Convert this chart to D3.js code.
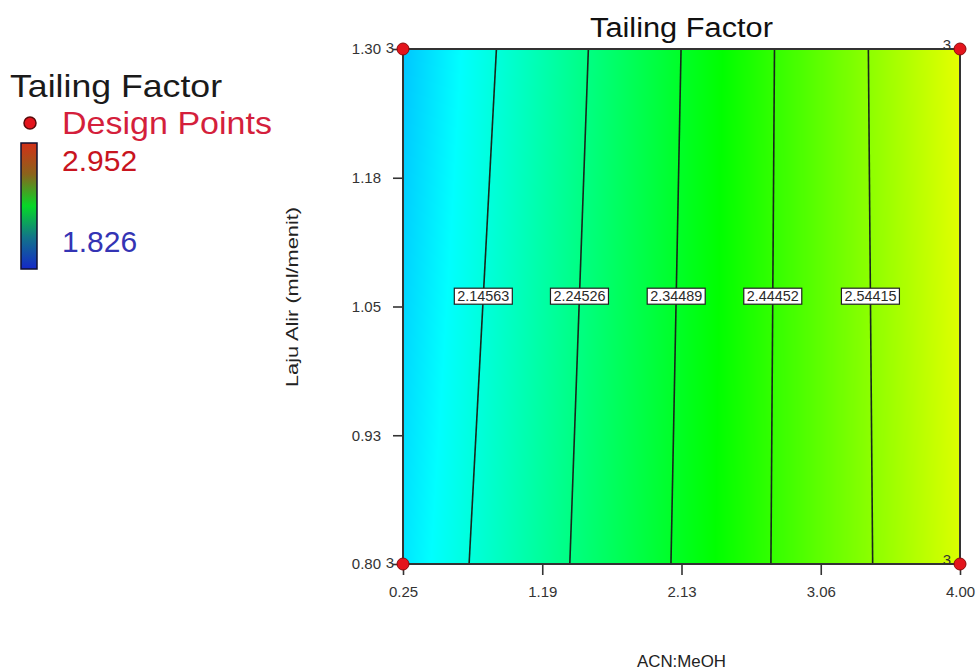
<!DOCTYPE html>
<html>
<head>
<meta charset="utf-8">
<script src="https://cdn.jsdelivr.net/npm/d3@7"></script>
<style>
  body { margin: 0; background: #fff; }
  svg { display: block; }
  text { font-family: "Liberation Sans", Arial, sans-serif; }
</style>
</head>
<body>
<svg id="chart" width="978" height="672"></svg>
<script>
// ---- data ----
const chartTitle = "Tailing Factor";
const xLabel = "ACN:MeOH";
const yLabel = "Laju Alir (ml/menit)";
const legendTitle = "Tailing Factor";
const legendPointsLabel = "Design Points";

const xTickValues = [0.25, 1.1875, 2.125, 3.0625, 4.00];
const xTickLabels = ["0.25", "1.19", "2.13", "3.06", "4.00"];
const yTickValues = [0.80, 0.925, 1.05, 1.175, 1.30];
const yTickLabels = ["0.80", "0.93", "1.05", "1.18", "1.30"];

const responseMin = 1.826;
const responseMax = 2.952;

// contour levels and where each one meets the low (0.80) and high (1.30) flow edges
const contourLevels = [2.14563, 2.24526, 2.34489, 2.44452, 2.54415];
const contourAcnAtLowFlow = [0.695, 1.373, 2.054, 2.727, 3.412];
const contourAcnAtHighFlow = [0.879, 1.498, 2.122, 2.751, 3.383];
// response at ACN:MeOH = 0.25 and 4.00 along each flow edge
const edgeValuesLowFlow = [2.080, 2.630];
const edgeValuesHighFlow = [2.044, 2.642];
const contourLabelFlow = 1.06;

const designAcn = [0.25, 4.00, 0.25, 4.00];
const designFlow = [1.30, 1.30, 0.80, 0.80];
const designCount = [3, 3, 3, 3];

// ---- layout ----
const plot = { left: 403, right: 960, top: 49, bottom: 564 };
const svg = d3.select("#chart");

const x = d3.scaleLinear().domain([0.25, 4.00]).range([plot.left, plot.right]);
const y = d3.scaleLinear().domain([0.80, 1.30]).range([plot.bottom, plot.top]);

const flowLow = 0.80, flowHigh = 1.30;
const acnLo = 0.25, acnHi = 4.00;

// response profile along each flow edge
const lowRow = d3.scaleLinear()
  .domain([acnLo, ...contourAcnAtLowFlow, acnHi])
  .range([edgeValuesLowFlow[0], ...contourLevels, edgeValuesLowFlow[1]]);
const highRow = d3.scaleLinear()
  .domain([acnLo, ...contourAcnAtHighFlow, acnHi])
  .range([edgeValuesHighFlow[0], ...contourLevels, edgeValuesHighFlow[1]]);
const flowBlend = d3.scaleLinear().domain([flowLow, flowHigh]).range([0, 1]);

// rainbow used for the response surface
const step = (responseMax - responseMin) / 4;
const surfaceColor = d3.scaleLinear()
  .domain([0, 1, 2, 3, 4].map(k => responseMin + k * step))
  .range(["#0000ff", "#00ffff", "#00ff00", "#ffff00", "#ff0000"])
  .clamp(true);

// ---- filled surface ----
const W = plot.right - plot.left, H = plot.bottom - plot.top;
const canvas = document.createElement("canvas");
canvas.width = W; canvas.height = H;
const ctx = canvas.getContext("2d");
const img = ctx.createImageData(W, H);
for (let j = 0; j < H; j++) {
  const flow = y.invert(plot.top + j + 0.5);
  const f = flowBlend(flow);
  for (let i = 0; i < W; i++) {
    const acn = x.invert(plot.left + i + 0.5);
    const v = lowRow(acn) * (1 - f) + highRow(acn) * f;
    const c = d3.rgb(surfaceColor(v));
    const k = (j * W + i) * 4;
    img.data[k] = c.r; img.data[k + 1] = c.g; img.data[k + 2] = c.b; img.data[k + 3] = 255;
  }
}
ctx.putImageData(img, 0, 0);
svg.append("image")
  .attr("x", plot.left).attr("y", plot.top)
  .attr("width", W).attr("height", H)
  .attr("preserveAspectRatio", "none")
  .attr("href", canvas.toDataURL());

// ---- contour lines ----
const contours = contourLevels.map((lv, i) => ({
  level: lv, lo: contourAcnAtLowFlow[i], hi: contourAcnAtHighFlow[i]
}));
svg.append("g").selectAll("line").data(contours).join("line")
  .attr("x1", d => x(d.lo)).attr("y1", y(flowLow))
  .attr("x2", d => x(d.hi)).attr("y2", y(flowHigh))
  .attr("stroke", "#18261c").attr("stroke-width", 1.6);

// contour value tags
const tags = svg.append("g").selectAll("g").data(contours).join("g")
  .attr("transform", d => {
    const acn = d.lo + (d.hi - d.lo) * flowBlend(contourLabelFlow);
    return `translate(${x(acn)},${y(contourLabelFlow)})`;
  });
tags.append("rect")
  .attr("x", -29).attr("y", -8).attr("width", 58).attr("height", 16)
  .attr("fill", "#fff").attr("stroke", "#222").attr("stroke-width", 1.2);
tags.append("text")
  .attr("text-anchor", "middle").attr("y", 5)
  .attr("font-size", 14).attr("fill", "#2a2a2a")
  .attr("textLength", 52).attr("lengthAdjust", "spacingAndGlyphs")
  .text(d => d.level.toFixed(5));

// ---- axes ----
const xAxis = d3.axisBottom(x).tickValues(xTickValues)
  .tickFormat((d, i) => xTickLabels[i]).tickSize(11).tickPadding(11);
const gx = svg.append("g").attr("transform", `translate(0,${plot.bottom})`).call(xAxis);
const yAxis = d3.axisLeft(y).tickValues(yTickValues)
  .tickFormat((d, i) => yTickLabels[i]).tickSize(10).tickPadding(12);
const gy = svg.append("g").attr("transform", `translate(${plot.left},0)`).call(yAxis);
[gx, gy].forEach(g => {
  g.select(".domain").remove();
  g.selectAll(".tick line").attr("stroke", "#333").attr("stroke-width", 1.6);
  g.selectAll(".tick text").attr("font-size", 15).attr("fill", "#333")
    .attr("font-family", "'Liberation Sans', Arial, sans-serif");
});

// plot frame
svg.append("rect")
  .attr("x", plot.left).attr("y", plot.top).attr("width", W).attr("height", H)
  .attr("fill", "none").attr("stroke", "#333").attr("stroke-width", 2);

// ---- design points ----
const pts = designAcn.map((a, i) => ({ acn: a, flow: designFlow[i], n: designCount[i] }));
svg.append("g").selectAll("text").data(pts).join("text")
  .attr("x", d => x(d.acn) - 9)
  .attr("y", d => y(d.flow) + (d.acn === acnLo ? 4 : 1))
  .attr("text-anchor", "end").attr("font-size", 15).attr("fill", "#333")
  .text(d => d.n);
svg.append("g").selectAll("circle").data(pts).join("circle")
  .attr("cx", d => x(d.acn)).attr("cy", d => y(d.flow)).attr("r", 6)
  .attr("fill", "#e3141c").attr("stroke", "#8a0a0a").attr("stroke-width", 1);

// ---- titles ----
svg.append("text")
  .attr("x", (plot.left + plot.right) / 2).attr("y", 37)
  .attr("text-anchor", "middle").attr("font-size", 27).attr("fill", "#111")
  .attr("textLength", 183).attr("lengthAdjust", "spacingAndGlyphs")
  .text(chartTitle);
svg.append("text")
  .attr("x", (plot.left + plot.right) / 2).attr("y", 667)
  .attr("text-anchor", "middle").attr("font-size", 17).attr("fill", "#222")
  .attr("textLength", 89).attr("lengthAdjust", "spacingAndGlyphs")
  .text(xLabel);
svg.append("text")
  .attr("transform", "translate(298,297) rotate(-90)")
  .attr("text-anchor", "middle").attr("font-size", 17).attr("fill", "#222")
  .attr("textLength", 180).attr("lengthAdjust", "spacingAndGlyphs")
  .text(yLabel);

// ---- legend ----
const legend = svg.append("g");
legend.append("text").attr("x", 10).attr("y", 97)
  .attr("font-size", 32).attr("fill", "#1a1a1a")
  .attr("textLength", 212).attr("lengthAdjust", "spacingAndGlyphs")
  .text(legendTitle);
legend.append("circle").attr("cx", 30).attr("cy", 123).attr("r", 6)
  .attr("fill", "#e3141c").attr("stroke", "#5a0a0a").attr("stroke-width", 1.5);
legend.append("text").attr("x", 62).attr("y", 134)
  .attr("font-size", 32).attr("fill", "#d41f3c")
  .attr("textLength", 210).attr("lengthAdjust", "spacingAndGlyphs")
  .text(legendPointsLabel);

const legendStops = ["#1428c8", "#12748a", "#06d828", "#8a641c", "#d23018"];
const grad = svg.append("defs").append("linearGradient")
  .attr("id", "legendGrad").attr("x1", 0).attr("y1", 1).attr("x2", 0).attr("y2", 0);
grad.selectAll("stop").data(legendStops).join("stop")
  .attr("offset", (d, i) => i / (legendStops.length - 1))
  .attr("stop-color", d => d);
legend.append("rect").attr("x", 21).attr("y", 143).attr("width", 16).attr("height", 126)
  .attr("fill", "url(#legendGrad)").attr("stroke", "#101030").attr("stroke-width", 1.5);
legend.append("text").attr("x", 62).attr("y", 171)
  .attr("font-size", 30).attr("fill", "#c8141e")
  .text(d3.format(".3f")(responseMax));
legend.append("text").attr("x", 62).attr("y", 252)
  .attr("font-size", 30).attr("fill", "#3434b4")
  .text(d3.format(".3f")(responseMin));
</script>
</body>
</html>
